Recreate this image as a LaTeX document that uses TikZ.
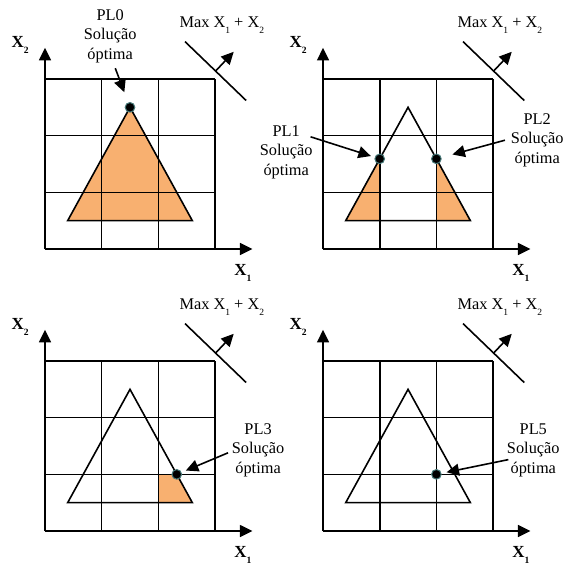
\documentclass[tikz,border=0pt]{standalone}
\usepackage{fontspec}
\setmainfont{Liberation Serif}
\usepackage{xcolor}
\usepackage{tikz}
\usetikzlibrary{arrows.meta, positioning, backgrounds}

\definecolor{regiao}{RGB}{248,176,112}
\definecolor{contorno}{RGB}{70,120,120}
\newcommand{\indice}[1]{\raisebox{-0.7ex}{\fontsize{4.8}{5}\selectfont #1}}

\begin{document}
\begin{tikzpicture}[
    font=\fontsize{8.2}{9.8}\selectfont,
    linha/.style={line width=0.8pt},
    seta/.style={line width=0.8pt, -{Triangle[length=2.2mm, width=2.1mm]}},
    ponto/.style={circle, fill=black, draw=contorno, line width=0.5pt, inner sep=0pt, minimum size=1.7mm},
    rotulo/.style={align=center, inner sep=0pt},
    eixo/.style={font=\fontsize{8.5}{9.8}\selectfont\bfseries, inner sep=0pt}
  ]
  \useasboundingbox (-0.794,-5.541) rectangle (9.158,4.394);

  % parts that the four panels share
  \foreach \n/\dx/\dy in {1/0/0, 2/4.906/0, 3/0/-4.976, 4/4.906/-4.976} {
    \begin{scope}[shift={(\dx,\dy)}]
      \coordinate (o\n) at (0,0);
      \coordinate (yt\n) at (0,3.55);
      \coordinate (xt\n) at (3.66,0);
      \draw[linha] (0,0) grid (3,3);
      \draw[seta] (o\n) -- (yt\n);
      \draw[seta] (o\n) -- (xt\n);
      \node[eixo] (x2-\n) at (-0.44,3.6) {X\indice{2}};
      \node[eixo] (x1-\n) at (3.49,-0.42) {X\indice{1}};
      % objective direction
      \coordinate (ma\n) at (2.47,3.66);
      \coordinate (mb\n) at (3.55,2.62);
      \coordinate (mc\n) at (3.01,3.14);
      \coordinate (md\n) at (3.33,3.48);
      \draw[linha] (ma\n) -- (mb\n);
      \draw[seta] (mc\n) -- (md\n);
      \node (max\n) at (3.12,3.95) {Max X\indice{1} + X\indice{2}};
      % feasible region
      \coordinate (ta\n) at (0.4,0.5);
      \coordinate (tb\n) at (2.6,0.5);
      \coordinate (tc\n) at (1.5,2.5);
      \draw[linha] (ta\n) -- (tb\n) -- (tc\n) -- cycle;
    \end{scope}
  }

  % PL0
  \begin{scope}[on background layer]
    \fill[regiao] (ta1) -- (tb1) -- (tc1) -- cycle;
  \end{scope}
  \node[ponto] (pl0) at (tc1) {};
  \node[rotulo] (r0) at (1.15,3.76) {PL0\\Solução\\óptima};
  \coordinate (a0) at (1.24,3.19);
  \draw[seta, shorten >=0.19cm] (a0) -- (pl0);

  % PL1 and PL2
  \begin{scope}[shift={(4.906,0)}]
    \begin{scope}[on background layer]
      \fill[regiao] (0.4,0.5) -- (1,0.5) -- (1,1.591) -- cycle;
      \fill[regiao] (2,0.5) -- (2.6,0.5) -- (2,1.591) -- cycle;
    \end{scope}
    \node[ponto] (pl1) at (1,1.591) {};
    \node[ponto] (pl2) at (2,1.591) {};
    \node[rotulo] (r1) at (-0.65,1.71) {PL1\\Solução\\óptima};
    \node[rotulo] (r2) at (3.78,1.92) {PL2\\Solução\\óptima};
    \coordinate (a1) at (-0.22,1.98);
    \coordinate (a2) at (3.21,1.92);
    \draw[seta, shorten >=0.07cm] (a1) -- (pl1);
    \draw[seta, shorten >=0.2cm] (a2) -- (pl2);
  \end{scope}

  % PL3
  \begin{scope}[shift={(0,-4.976)}]
    \begin{scope}[on background layer]
      \fill[regiao] (2,0.5) -- (2.6,0.5) -- (2.325,1) -- (2,1) -- cycle;
    \end{scope}
    \node[ponto] (pl3) at (2.325,1) {};
    \node[rotulo] (r3) at (3.76,1.43) {PL3\\Solução\\óptima};
    \coordinate (a3) at (3.23,1.38);
    \draw[seta, shorten >=0.08cm] (a3) -- (pl3);
  \end{scope}

  % PL5
  \begin{scope}[shift={(4.906,-4.976)}]
    \node[ponto] (pl5) at (2,1) {};
    \node[rotulo] (r5) at (3.71,1.43) {PL5\\Solução\\óptima};
    \coordinate (a5) at (3.27,1.26);
    \draw[seta, shorten >=0.09cm] (a5) -- (pl5);
  \end{scope}
\end{tikzpicture}
\end{document}
